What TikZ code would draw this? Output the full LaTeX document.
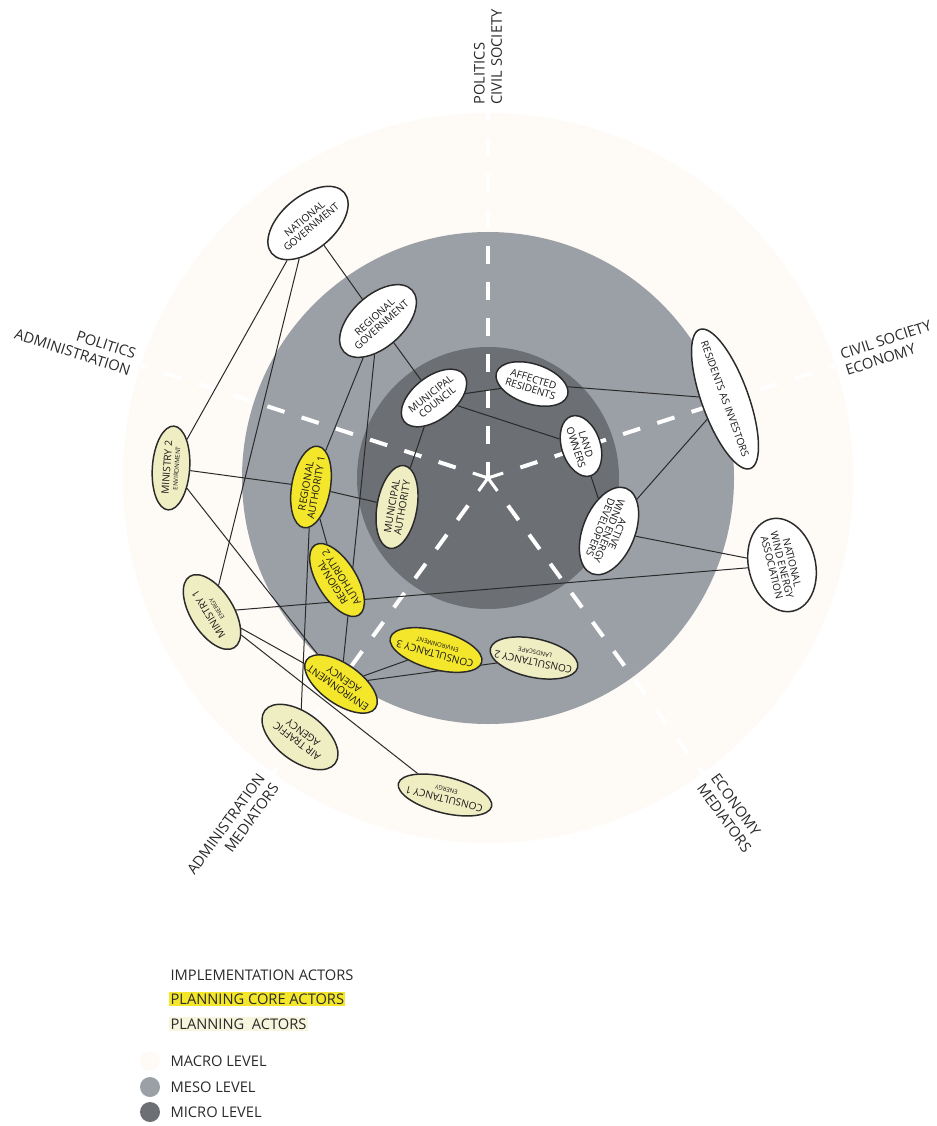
\documentclass[tikz,border=0pt]{standalone}
\usepackage{fontspec}
\setmainfont{Open Sans}
\usetikzlibrary{shapes.geometric,calc,backgrounds}
\definecolor{macro}{HTML}{FEFAF6}
\definecolor{meso}{HTML}{9BA0A6}
\definecolor{micro}{HTML}{6C6F74}
\definecolor{coreyellow}{HTML}{F4E62A}
\definecolor{planpale}{HTML}{EFEDC2}
\definecolor{ink}{HTML}{2A2A2A}
\newcommand{\subline}[1]{\\[-1.5pt]{\fontsize{4.6}{5.2}\selectfont #1}}
\tikzset{
  actor/.style={ellipse, draw=ink, line width=1.1pt, inner xsep=-6pt, inner ysep=0pt,
    align=center, text=black!90, font=\fontsize{7.6}{7.8}\selectfont},
  impl/.style={actor, fill=white},
  core/.style={actor, fill=coreyellow},
  plan/.style={actor, fill=planpale},
  link/.style={draw=ink, line width=0.75pt},
  sector/.style={text=ink, font=\fontsize{11}{13}\selectfont, inner sep=1pt},
  legendtext/.style={anchor=west, text=ink, font=\fontsize{11}{13}\selectfont, inner xsep=1pt, inner ysep=1.5pt},
  leveldot/.style={circle, minimum size=15pt, inner sep=0pt}
}
\begin{document}
\begin{tikzpicture}[x=0.75pt, y=0.75pt]
    \useasboundingbox (0,0) rectangle (936,-1126);
    \coordinate (c) at (488,-478);
    \node[impl, rotate=40, minimum width=71pt, minimum height=40pt] (natgov) at (308,-223) {NATIONAL\\GOVERNMENT};
    \node[impl, rotate=42, minimum width=69pt, minimum height=39pt] (reggov) at (378,-321) {REGIONAL\\GOVERNMENT};
    \node[impl, rotate=38, minimum width=57pt, minimum height=32pt] (muncouncil) at (434,-398) {MUNICIPAL\\COUNCIL};
    \node[impl, rotate=-18, minimum width=56pt, minimum height=30pt] (affected) at (532,-384) {AFFECTED\\RESIDENTS};
    \node[impl, rotate=-72, minimum width=47pt, minimum height=29pt] (landowners) at (581,-446) {LAND\\OWNERS};
    \node[impl, rotate=-112, minimum width=69pt, minimum height=39pt] (winddev) at (609,-531) {ACTIVE\\[-1pt]WIND ENERGY\\[-1pt]DEVELOPERS};
    \node[impl, rotate=-70, inner xsep=-9pt, minimum width=111pt, minimum height=35pt] (resinv) at (725,-399) {RESIDENTS AS INVESTORS};
    \node[impl, rotate=-76, minimum width=71pt, minimum height=50pt] (natwind) at (782,-565) {NATIONAL\\WIND ENERGY\\ASSOCIATION};
    \node[core, rotate=80, minimum width=62pt, minimum height=29pt] (regauth1) at (311,-487) {REGIONAL\\AUTHORITY 1};
    \node[core, rotate=122, minimum width=62pt, minimum height=29pt] (regauth2) at (337,-580) {REGIONAL\\AUTHORITY 2};
    \node[plan, rotate=80, minimum width=63pt, minimum height=30pt] (munauth) at (397,-507) {MUNICIPAL\\AUTHORITY};
    \node[plan, rotate=86, minimum width=63pt, minimum height=28pt] (min2) at (171,-468) {MINISTRY 2\subline{ENVIRONMENT}};
    \node[plan, rotate=122, minimum width=63pt, minimum height=32pt] (min1) at (212,-612) {MINISTRY 1\subline{ENERGY}};
    \node[core, rotate=145, minimum width=63pt, minimum height=30pt] (envagency) at (341,-684) {ENVIRONMENT\\AGENCY};
    \node[core, rotate=165, minimum width=71pt, minimum height=29pt] (cons3) at (436,-650) {CONSULTANCY 3\subline{ENVIRONMENT}};
    \node[plan, rotate=168, minimum width=65pt, minimum height=29pt] (cons2) at (534,-658) {CONSULTANCY 2\subline{LANDSCAPE}};
    \node[plan, rotate=143, minimum width=66pt, minimum height=36pt] (airtraffic) at (300,-737) {AIR TRAFFIC\\AGENCY};
    \node[plan, rotate=166, minimum width=72pt, minimum height=27pt] (cons1) at (445,-795) {CONSULTANCY 1\subline{ENERGY}};
    \begin{scope}[on background layer]
      \fill[macro] (c) circle (365);
      \fill[meso] (c) circle (246);
      \fill[micro] (c) circle (131);
      \foreach \a in {90,18,-54,-126,162} {
        \draw[white, line width=2.3pt] (c) -- ($(c)+(\a:16)$);
        \draw[white, line width=3pt, dash pattern=on 13.5pt off 13.5pt] ($(c)+(\a:34)$) -- ($(c)+(\a:365)$);
      }
      \draw[link] (natgov) -- (reggov);
      \draw[link] (natgov) -- (min2);
      \draw[link] (natgov) -- (min1);
      \draw[link] (reggov) -- (muncouncil);
      \draw[link] (reggov) -- (regauth1);
      \draw[link] (reggov) -- (envagency);
      \draw[link] (muncouncil) -- (affected);
      \draw[link] (muncouncil) -- (landowners);
      \draw[link] (muncouncil) -- (munauth);
      \draw[link] (affected) -- (resinv);
      \draw[link] (landowners) -- (winddev);
      \draw[link] (winddev) -- (resinv);
      \draw[link] (winddev) -- (natwind);
      \draw[link] (natwind) -- (min1);
      \draw[link] (min2) -- (regauth1);
      \draw[link] (regauth1) -- (munauth);
      \draw[link] (min2) -- (envagency);
      \draw[link] (regauth1) -- (regauth2);
      \draw[link] (regauth1) -- (airtraffic);
      \draw[link] (min1) -- (envagency);
      \draw[link] (min1) -- (cons1);
      \draw[link] (envagency) -- (cons3);
      \draw[link] (envagency) -- (cons2);
    \end{scope}
    \foreach \a/\r/\anc/\al/\txt [count=\n] in {90/90/west/left/{POLITICS\\CIVIL SOCIETY},
        18/18/west/left/{CIVIL SOCIETY\\ECONOMY}, -54/-54/west/left/{ECONOMY\\MEDIATORS},
        -126/54/east/right/{ADMINISTRATION\\MEDIATORS}, 162/-18/east/right/{POLITICS\\ADMINISTRATION}}
      \node[sector, rotate=\r, anchor=\anc, align=\al] (sector\n) at ($(c)+(\a:372)$) {\txt};
    \node[legendtext] (implkey) at (169,-975) {IMPLEMENTATION ACTORS};
    \node[legendtext, fill=coreyellow] (corekey) at (169,-999) {PLANNING CORE ACTORS};
    \node[legendtext, fill=planpale!55] (plankey) at (169,-1024) {PLANNING\ \ ACTORS};
    \node[leveldot, fill=macro] (macrodot) at (150,-1061) {};
    \node[leveldot, fill=meso] (mesodot) at (150,-1087) {};
    \node[leveldot, fill=micro] (microdot) at (150,-1112) {};
    \node[legendtext] (macrokey) at (169,-1061) {MACRO LEVEL};
    \node[legendtext] (mesokey) at (169,-1087) {MESO LEVEL};
    \node[legendtext] (microkey) at (169,-1112) {MICRO LEVEL};
  \end{tikzpicture}
\end{document}
